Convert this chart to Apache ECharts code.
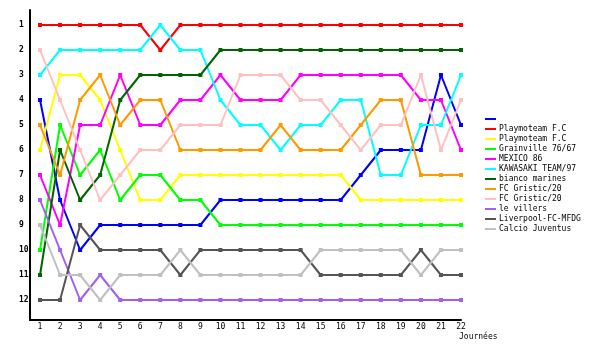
<!DOCTYPE html>
<html><head><meta charset="utf-8">
<script src="https://cdn.jsdelivr.net/npm/echarts@6/dist/echarts.min.js"></script>
<style>html,body{margin:0;padding:0;background:#fff}#c{width:600px;height:350px}</style>
</head><body><div id="c"></div>
<script>
var journees = [1,2,3,4,5,6,7,8,9,10,11,12,13,14,15,16,17,18,19,20,21,22];
var rankTicks = [1,2,3,4,5,6,7,8,9,10,11,12];
var teamNames = [' ', 'Playmoteam F.C', 'Playmoteam F.C ', 'Grainville 76/67', 'MEXICO 86', 'KAWASAKI TEAM/97', 'bianco marines', 'FC Gristic/20', 'FC Gristic/20 ', 'le villers', 'Liverpool-FC-MFDG', 'Calcio Juventus'];
var teamColors = ['#0000ff','#ff0000','#ffff00','#00ff00','#ff00ff','#00ffff','#006400','#ff9900','#ffc0c0','#a060f0','#555555','#c0c0c0'];
var blue      = [4,8,10,9,9,9,9,9,9,8,8,8,8,8,8,8,7,6,6,6,3,5];
var red       = [1,1,1,1,1,1,2,1,1,1,1,1,1,1,1,1,1,1,1,1,1,1];
var yellow    = [6,3,3,4,6,8,8,7,7,7,7,7,7,7,7,7,8,8,8,8,8,8];
var green     = [10,5,7,6,8,7,7,8,8,9,9,9,9,9,9,9,9,9,9,9,9,9];
var magenta   = [7,9,5,5,3,5,5,4,4,3,4,4,4,3,3,3,3,3,3,4,4,6];
var cyan      = [3,2,2,2,2,2,1,2,2,4,5,5,6,5,5,4,4,7,7,5,5,3];
var darkGreen = [11,6,8,7,4,3,3,3,3,2,2,2,2,2,2,2,2,2,2,2,2,2];
var orange    = [5,7,4,3,5,4,4,6,6,6,6,6,5,6,6,6,5,4,4,7,7,7];
var pink      = [2,4,6,8,7,6,6,5,5,5,3,3,3,4,4,5,6,5,5,3,6,4];
var purple    = [8,10,12,11,12,12,12,12,12,12,12,12,12,12,12,12,12,12,12,12,12,12];
var darkGray  = [12,12,9,10,10,10,10,11,10,10,10,10,10,10,11,11,11,11,11,10,11,11];
var lightGray = [9,11,11,12,11,11,11,10,11,11,11,11,11,11,10,10,10,10,10,11,10,10];
var allRanks = [blue, red, yellow, green, magenta, cyan, darkGreen, orange, pink, purple, darkGray, lightGray];

var chart = echarts.init(document.getElementById('c'), null, {renderer:'canvas'});
var series = teamNames.map(function(n, i){
  return {
    name: n, type: 'line',
    data: journees.map(function(j, k){ return [j, allRanks[i][k]]; }),
    symbol: 'rect', symbolSize: 4,
    itemStyle: {color: teamColors[i]},
    lineStyle: {color: teamColors[i], width: 2},
    emphasis: {disabled: true}
  };
});
chart.setOption({
  animation: false,
  backgroundColor: '#fff',
  grid: {left: 30, right: 139, top: 10, bottom: 30},
  xAxis: {
    type: 'value', min: 0.5, max: 22,
    axisLine: {show: true, onZero: false, lineStyle: {color: '#000', width: 2}},
    axisTick: {show: false},
    splitLine: {show: false},
    axisLabel: {customValues: journees, margin: 3, color: '#000', fontSize: 8, fontFamily: 'DejaVu Sans Mono'}
  },
  yAxis: {
    type: 'value', inverse: true, min: 0.4, max: 12.8,
    axisLine: {show: true, onZero: false, lineStyle: {color: '#000', width: 2}},
    axisTick: {show: false},
    splitLine: {show: false},
    axisLabel: {customValues: rankTicks, margin: 11, align: 'left', color: '#000', fontSize: 8, fontWeight: 'bold', fontFamily: 'DejaVu Sans Mono'}
  },
  legend: {
    orient: 'vertical', left: 480, top: 109,
    data: teamNames, icon: 'rect', itemWidth: 11, itemHeight: 2, itemGap: 0,
    selectedMode: false,
    textStyle: {fontSize: 8, lineHeight: 10, color: '#000', fontFamily: 'DejaVu Sans Mono', padding: [0,0,0,-2]}
  },
  graphic: [{type: 'text', left: 459, top: 333, style: {text: 'Journées', font: '8px "DejaVu Sans Mono"', fill: '#000'}}],
  series: series
});
</script></body></html>
